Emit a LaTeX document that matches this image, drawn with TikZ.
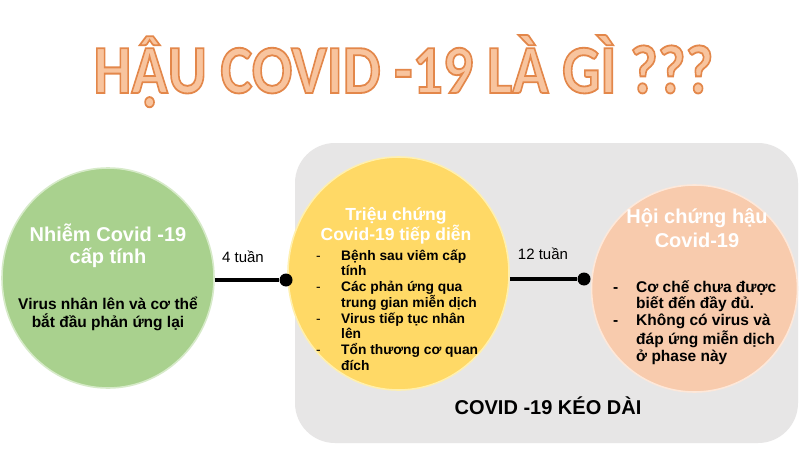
\documentclass[tikz,border=0pt]{standalone}
\usepackage{fontspec}
\usepackage{graphicx}
\setmainfont{Liberation Sans}
\newfontfamily\titlefont{Carlito}
\usetikzlibrary{shapes.geometric}
\definecolor{titlefill}{RGB}{248,196,158}
\definecolor{boxgray}{RGB}{231,230,230}
\definecolor{cgreen}{RGB}{169,209,142}
\definecolor{cgreenrim}{RGB}{214,234,200}
\definecolor{cyellow}{RGB}{255,217,102}
\definecolor{cyellowrim}{RGB}{255,240,175}
\definecolor{cpeach}{RGB}{248,203,173}
\definecolor{cpeachrim}{RGB}{253,232,218}
\newcommand{\AcircDot}{{\ooalign{Â\cr\hidewidth\raisebox{-0.2em}{.}\hidewidth\cr}}}
\tikzset{
  phase/.style={ellipse, inner sep=0pt, line width=1.6pt},
  head/.style={anchor=base, align=center, text=white, inner sep=0pt, font=\bfseries},
  blk/.style={inner sep=0pt, font=\bfseries},
  joint/.style={circle, fill=black, draw=none, minimum size=13pt, inner sep=0pt},
  link/.style={draw=black, line width=4pt},
  lbl/.style={anchor=base, inner sep=0pt, font=\fontsize{15}{17}\selectfont}
}
\begin{document}
\begin{tikzpicture}[x=1pt,y=-1pt]
\useasboundingbox (0,0) rectangle (800,460);
\fill[white] (0,0) rectangle (800,460);
% title
\node[anchor=base, inner sep=0pt] (title) at (403.5,93)
  {\scalebox{1}[1.15]{\titlefont\bfseries\fontsize{60}{61}\selectfont\color{titlefill}\special{pdf:literal direct 2 Tr 1.6 w 0.89 0.53 0.29 RG}H\AcircDot U COVID -19 LÀ GÌ ???\special{pdf:literal direct 0 Tr}}};
% grey panel
\node[draw=none, fill=boxgray, rounded corners=40pt, minimum width=503pt, minimum height=300pt, inner sep=0pt] (panel) at (546.5,293) {};
% phases
\node[phase, fill=cgreen, draw=cgreenrim, minimum width=212pt, minimum height=220pt] (green) at (108,278) {};
\node[phase, fill=cyellow, draw=cyellowrim, minimum width=221pt, minimum height=233pt] (yellow) at (398.5,273.5) {};
\node[phase, fill=cpeach, draw=cpeachrim, minimum width=206pt, minimum height=207pt] (peach) at (694.5,288.5) {};
% joints and links
\node[joint] (j1) at (286,280) {};
\node[joint] (j2) at (584,279) {};
\draw[link] (j1 -| green.east) -- (j1);
\draw[link] (j2 -| yellow.east) -- (j2);
\node[lbl] (w4) at (243,262) {4 tuần};
\node[lbl] (w12) at (543,259) {12 tuần};
% green text (base anchor = last line)
\node[head, font=\bfseries\fontsize{20}{22}\selectfont] (gh) at (108,263) {Nhiễm Covid -19\\cấp tính};
\node[blk, anchor=base, align=center, font=\bfseries\fontsize{15.5}{18}\selectfont] (gt) at (108,327) {Virus nhân lên và cơ thể\\bắt đầu phản ứng lại};
% yellow text
\node[head, font=\bfseries\fontsize{17.5}{20}\selectfont] (yh) at (396,240) {Triệu chứng\\Covid-19 tiếp diễn};
\node[blk, anchor=base west] (yl) at (316,260) {\fontsize{13.8}{15.5}\selectfont\begin{tabular}[t]{@{}p{25pt}@{}l@{}}
{\mdseries -} & Bệnh sau viêm cấp\\
 & tính\\
{\mdseries -} & Các phản ứng qua\\
 & trung gian miễn dịch\\
{\mdseries -} & Virus tiếp tục nhân\\
 & lên\\
{\mdseries -} & Tổn thương cơ quan\\
 & đích
\end{tabular}};
% peach text
\node[head, font=\bfseries\fontsize{20}{24}\selectfont] (ph) at (697,247) {Hội chứng hậu\\Covid-19};
\node[blk, anchor=base west] (pl) at (613,292) {\fontsize{15.5}{16.8}\selectfont\begin{tabular}[t]{@{}p{23pt}@{}l@{}}
- & Cơ chế chưa được\\
 & biết đến đầy đủ.\\
- & Không có virus và\\
 & đáp ứng miễn dịch\\
 & ở phase này
\end{tabular}};
% panel caption
\node[blk, anchor=base, font=\bfseries\fontsize{20}{24}\selectfont] (cap) at (548,414) {COVID -19 KÉO DÀI};
\end{tikzpicture}
\end{document}
